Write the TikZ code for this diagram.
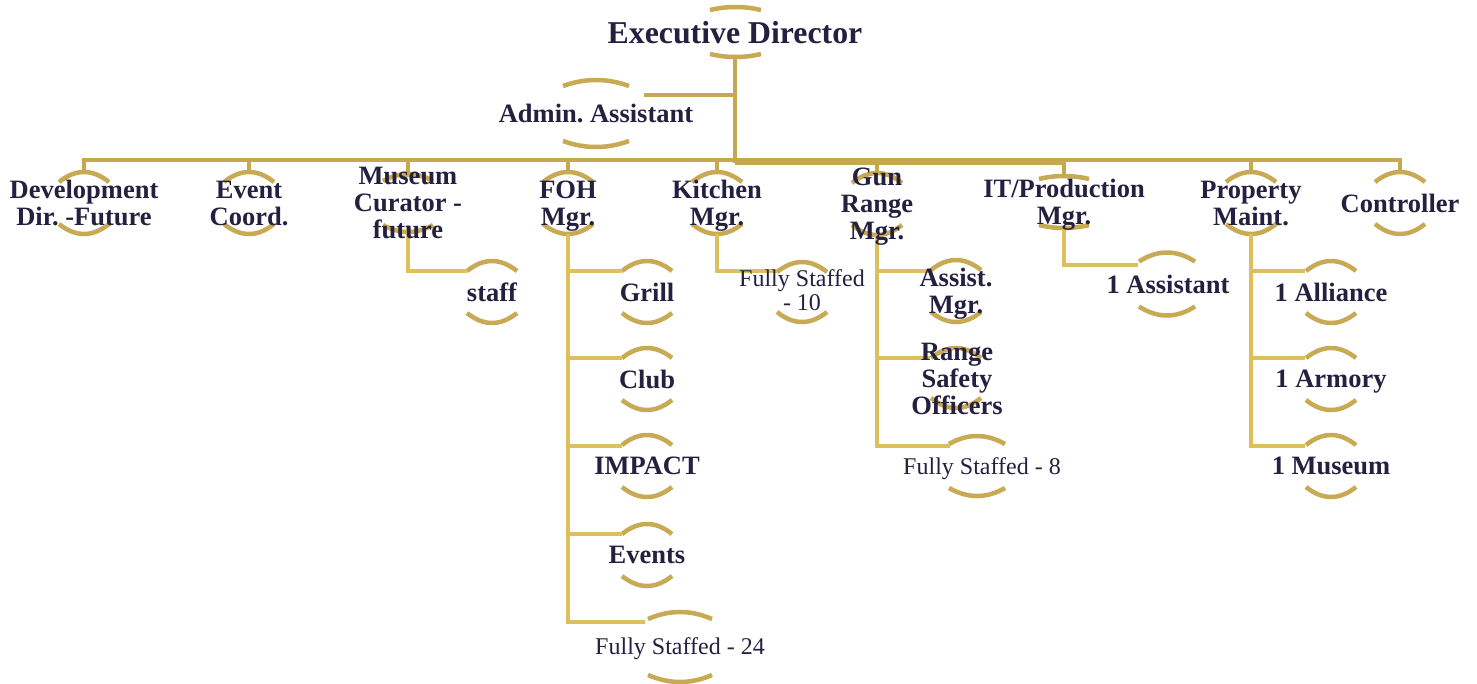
\documentclass[tikz,border=0pt]{standalone}
\usepackage{fontspec}
\setmainfont{Liberation Serif}
\frenchspacing
\definecolor{golddk}{RGB}{197,168,80}
\definecolor{goldlt}{RGB}{221,192,92}
\definecolor{arcgold}{RGB}{200,170,84}
\definecolor{ink}{RGB}{36,32,64}
\pgfdeclarelayer{bg}
\pgfsetlayers{bg,main}
\tikzset{
  lbl/.style={font=\bfseries\fontsize{26.5}{27}\selectfont, text=ink, align=center, inner sep=0pt, text depth=0pt},
  lblr/.style={font=\fontsize{24}{24}\selectfont, text=ink, align=center, inner sep=0pt, text depth=0pt},
  connd/.style={draw=golddk, line width=4pt},
  connl/.style={draw=goldlt, line width=4pt},
  arcst/.style={draw=arcgold, line width=4.5pt},
}
\newcommand\deco[6]{%
  \begin{scope}[shift={(#1.center)}, shift={(#2,#3)}]
    \draw[arcst] (-#4,-#5+#6) .. controls (-#4/3,-#5-#6/3) and (#4/3,-#5-#6/3) .. (#4,-#5+#6);
    \draw[arcst] (-#4,#5-#6) .. controls (-#4/3,#5+#6/3) and (#4/3,#5+#6/3) .. (#4,#5-#6);
  \end{scope}}
\begin{document}
\begin{tikzpicture}[x=1pt,y=-1pt]
\useasboundingbox (0,0) rectangle (1477,683);
% nodes
\node[lbl, font=\bfseries\fontsize{31.8}{32}\selectfont] (ed) at (735,32) {Executive Director};
\node[lbl] (aa) at (596,113) {Admin. Assistant};
\node[lbl] (dev) at (84,203) {Development\\Dir. -Future};
\node[lbl] (evt) at (249,203) {Event\\Coord.};
\node[lbl] (mus) at (408,203) {Museum\\Curator -\\future};
\node[lbl] (foh) at (568,203) {FOH\\Mgr.};
\node[lbl] (kit) at (717,203) {Kitchen\\Mgr.};
\node[lbl] (gun) at (877,204) {Gun\\Range\\Mgr.};
\node[lbl] (itp) at (1064,202) {IT/Production\\Mgr.};
\node[lbl] (pm) at (1251,203) {Property\\Maint.};
\node[lbl] (ctl) at (1400,203) {Controller};
\node[lbl] (stf) at (492,292) {staff};
\node[lbl] (grl) at (647,292) {Grill};
\node[lbl] (club) at (647,379) {Club};
\node[lbl] (imp) at (647,466) {IMPACT};
\node[lbl] (evs) at (647,555) {Events};
\node[lblr] (fs24) at (680,646) {Fully Staffed - 24};
\node[lblr] (fs10) at (802,290) {Fully Staffed\\- 10};
\node[lbl] (asm) at (956,291) {Assist.\\Mgr.};
\node[lbl] (rso) at (957,379) {Range\\Safety\\Officers};
\node[lblr] (fs8) at (982,466) {Fully Staffed - 8};
\node[lbl] (ast1) at (1168,284) {1 Assistant};
\node[lbl] (all) at (1331,292) {1 Alliance};
\node[lbl] (arm) at (1331,379) {1 Armory};
\node[lbl] (mus1) at (1331,466) {1 Museum};
\coordinate (bus) at (735,160);
\coordinate (bus2) at (735,163);
\coordinate (ja) at (735,95);
\begin{pgfonlayer}{bg}
\fill[white] (0,0) rectangle (1477,683);
% arcs
\deco{ed}{0.5}{0}{25.5}{25}{3}
\deco{aa}{0}{0.5}{33}{33.5}{6}
\foreach \n in {dev,evt,foh,kit,gun,pm,ctl,stf,grl,club,imp,evs,asm,all,arm,mus1}{\deco{\n}{0}{0}{25}{31}{10}}
\deco{rso}{-1}{-1}{25}{30}{10}
\deco{mus}{0}{0}{25}{29}{7}
\deco{itp}{0}{0}{25}{26}{3}
\deco{fs24}{0}{1}{32}{35}{7}
\deco{fs10}{0}{2}{25}{30}{10}
\deco{fs8}{-5}{0}{28}{30}{8}
\deco{ast1}{-1}{0}{28}{31.5}{9}
% top-level connectors
\draw[connd] ([shift={(0,25)}]ed.center) -- (bus2);
\draw[connd] (ja) -- ([shift={(48,-18)}]aa.center);
\draw[connd] (bus) -| ([shift={(0,-31)}]dev.center);
\draw[connd] (bus) -| ([shift={(0,-31)}]evt.center);
\draw[connd] (bus) -| ([shift={(0,-26)}]mus.center);
\draw[connd] (bus) -| ([shift={(0,-31)}]foh.center);
\draw[connd] (bus) -| ([shift={(0,-31)}]kit.center);
\draw[connd] (bus) -| ([shift={(0,-31)}]pm.center);
\draw[connd] (bus) -| ([shift={(0,-31)}]ctl.center);
\draw[connd] (bus2) -| ([shift={(0,-31)}]gun.center);
\draw[connd] (bus2) -| ([shift={(0,-26)}]itp.center);
% lower connectors
\draw[connl] ([shift={(0,22)}]mus.center) |- ([shift={(-25,-21)}]stf.center);
\draw[connl] ([shift={(0,31)}]foh.center) |- ([shift={(-25,-21)}]grl.center);
\draw[connl] ([shift={(0,31)}]foh.center) |- ([shift={(-25,-21)}]club.center);
\draw[connl] ([shift={(0,31)}]foh.center) |- ([shift={(-25,-20)}]imp.center);
\draw[connl] ([shift={(0,31)}]foh.center) |- ([shift={(-25,-21)}]evs.center);
\draw[connl] ([shift={(0,31)}]foh.center) |- ([shift={(-35,-24)}]fs24.center);
\draw[connl] ([shift={(0,31)}]kit.center) |- ([shift={(-25,-19)}]fs10.center);
\draw[connl] ([shift={(0,31)}]gun.center) |- ([shift={(-25,-20)}]asm.center);
\draw[connl] ([shift={(0,31)}]gun.center) |- ([shift={(-27,-21)}]rso.center);
\draw[connl] ([shift={(0,31)}]gun.center) |- ([shift={(-32,-20)}]fs8.center);
\draw[connl] ([shift={(0,27)}]itp.center) |- ([shift={(-30,-19)}]ast1.center);
\draw[connl] ([shift={(0,31)}]pm.center) |- ([shift={(-26,-21)}]all.center);
\draw[connl] ([shift={(0,31)}]pm.center) |- ([shift={(-26,-21)}]arm.center);
\draw[connl] ([shift={(0,31)}]pm.center) |- ([shift={(-26,-20)}]mus1.center);
\end{pgfonlayer}
\end{tikzpicture}
\end{document}
